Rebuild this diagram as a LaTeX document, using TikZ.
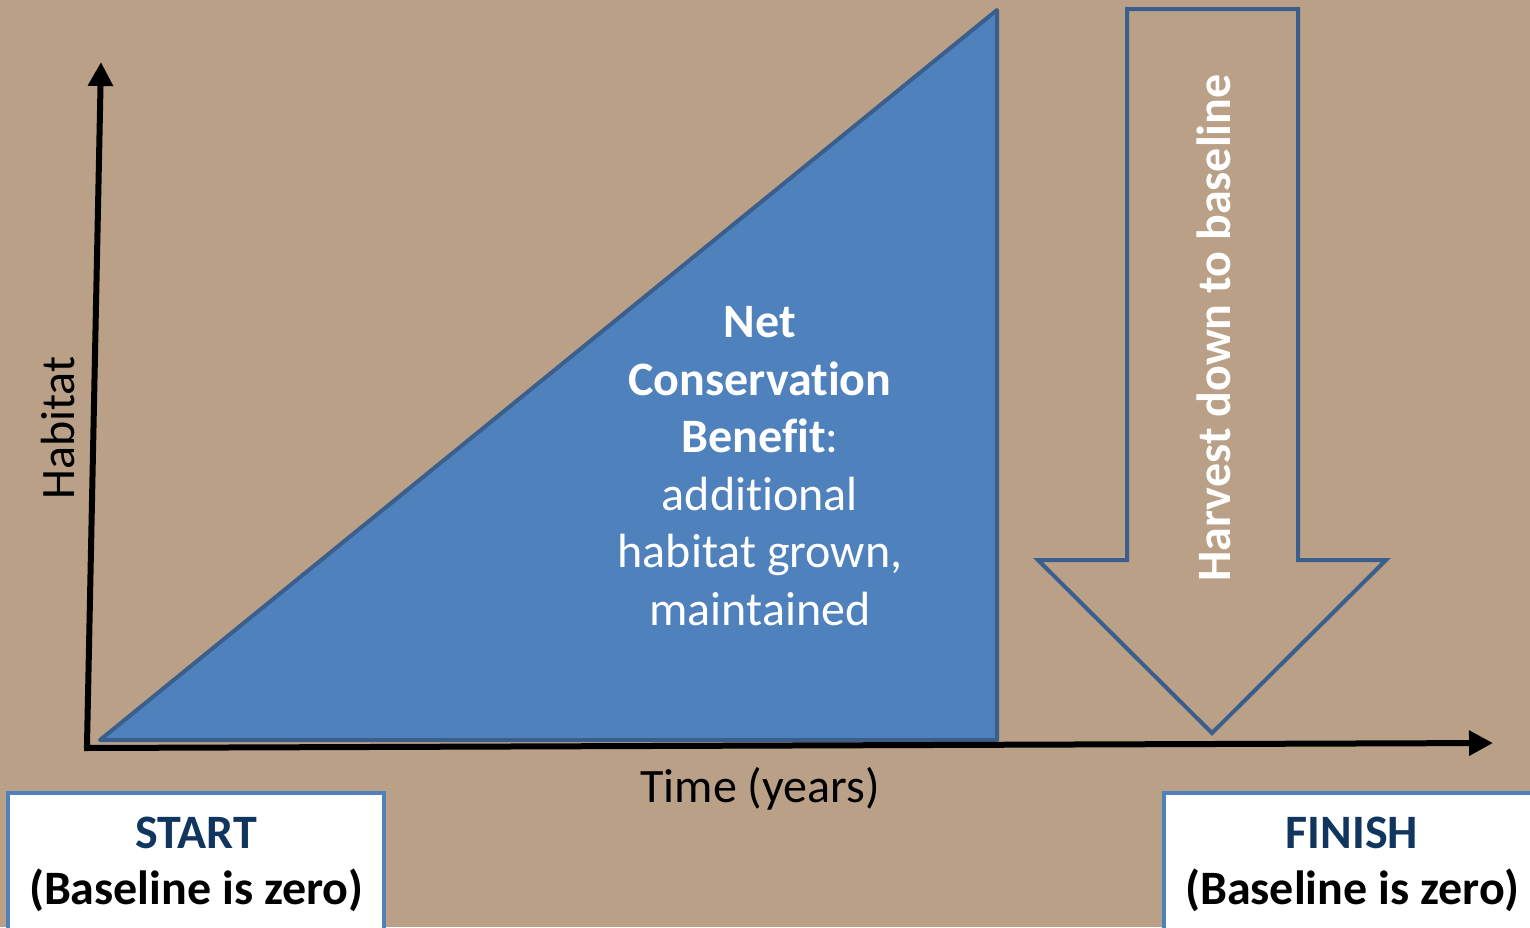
\documentclass[tikz,border=0pt]{standalone}
\usepackage{fontspec}
\setmainfont{Carlito}[Ligatures=NoCommon]
\usetikzlibrary{arrows.meta}
\definecolor{bgtan}{RGB}{185,160,135}
\definecolor{triblue}{RGB}{79,129,189}
\definecolor{edgeblue}{RGB}{58,95,141}
\definecolor{boxblue}{RGB}{79,129,189}
\definecolor{navy}{RGB}{16,54,95}
\tikzset{
  axis/.style={line width=6pt, draw=black, -{Triangle[length=24pt,width=24pt]}},
  lbl/.style={font=\fontsize{48}{57.5}\selectfont, inner sep=0pt, align=center},
  boldlbl/.style={lbl, font=\fontsize{48}{57.5}\selectfont\bfseries},
  boxstyle/.style={draw=boxblue, line width=4pt, fill=white},
}
\begin{document}
\begin{tikzpicture}[x=1pt,y=-1pt]
\useasboundingbox (0,0) rectangle (1530,927);
\fill[bgtan] (0,0) rectangle (1530,927);
\clip (0,0) rectangle (1530,927);
% triangle
\coordinate (t1) at (100,740);
\coordinate (t2) at (997,10);
\coordinate (t3) at (997,740);
\filldraw[fill=triblue, draw=edgeblue, line width=4pt, line join=round] (t1) -- (t2) -- (t3) -- cycle;
% axes
\coordinate (origin) at (87,748);
\coordinate (ytip) at (101,62);
\coordinate (xtip) at (1493,743);
\draw[axis] ([yshift=3pt]origin) -- (ytip);
\draw[axis] ([xshift=-3pt]origin) -- (xtip);
% block arrow
\draw[edgeblue, line width=4pt, line join=miter]
  (1127,9) -- (1298,9) -- (1298,560) -- (1386,560) -- (1212,733) -- (1038,560) -- (1127,560) -- cycle;
\node[boldlbl, text=white, rotate=90] (harvest) at (1214,328) {Harvest down to baseline};
% labels
\node[lbl, text=white] (benefit) at (760,466) {\textbf{Net}\\\textbf{Conservation}\\\textbf{Benefit}:\\additional\\habitat grown,\\maintained};
\node[lbl, rotate=90] (habitat) at (58,428) {Habitat};
\node[lbl] (time) at (760,789) {Time (years)};
% boxes
\draw[boxstyle] (8,793) rectangle (384,960);
\draw[boxstyle] (1164,793) rectangle (1560,960);
\node[boldlbl, text=navy] (start) at (196,833) {START};
\node[boldlbl] (startsub) at (196,890) {(Baseline is zero)};
\node[boldlbl, text=navy] (finish) at (1352,833) {FINISH};
\node[boldlbl] (finishsub) at (1352,890) {(Baseline is zero)};
\end{tikzpicture}
\end{document}
